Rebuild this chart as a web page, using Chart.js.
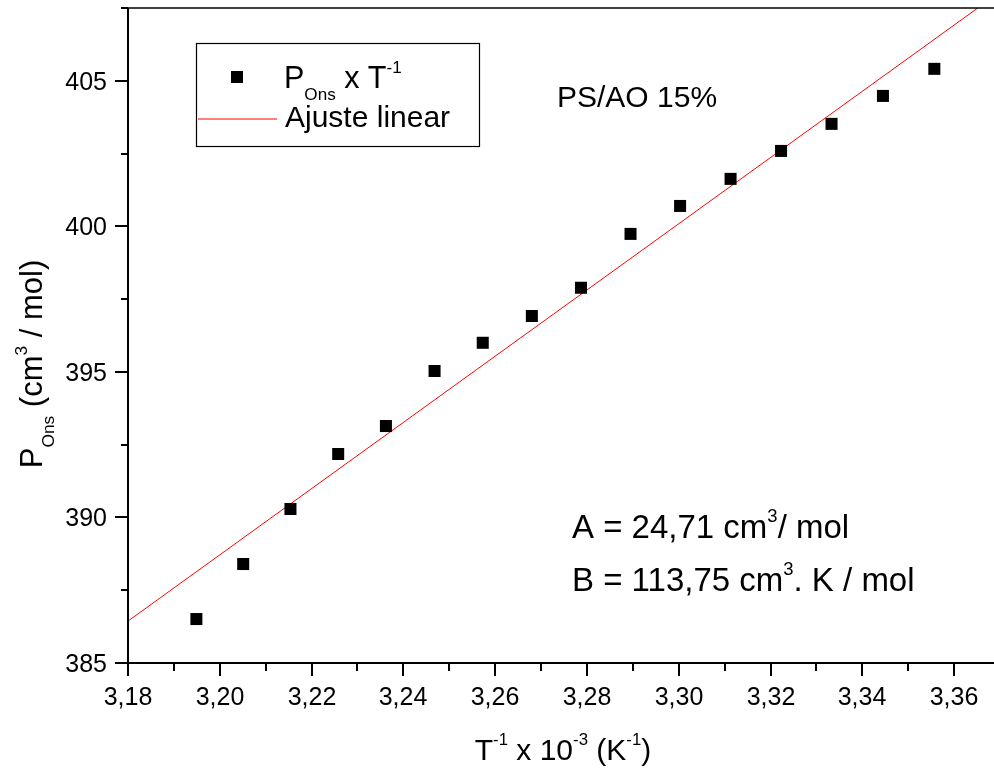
<!DOCTYPE html>
<html>
<head>
<meta charset="utf-8">
<script src="https://cdn.jsdelivr.net/npm/chart.js@4/dist/chart.umd.min.js"></script>
<style>
  html, body { margin: 0; padding: 0; background: #fff; overflow: hidden; }
  canvas { display: block; }
</style>
</head>
<body>
<canvas id="c" width="994" height="771"></canvas>
<script>
// ---- data ----
const xVals = [3.1949, 3.2051, 3.2154, 3.2258, 3.2362, 3.2468, 3.2573, 3.2680, 3.2787, 3.2895, 3.3003, 3.3113, 3.3223, 3.3333, 3.3445, 3.3557];
const yVals = [386.51, 388.40, 390.29, 392.18, 393.14, 395.03, 396.00, 396.92, 397.89, 399.74, 400.70, 401.63, 402.59, 403.52, 404.48, 405.41];
const fitX = [3.18, 3.37];
const fitY = [386.44, 408.05];
const xMajorTicks = [3.18, 3.20, 3.22, 3.24, 3.26, 3.28, 3.30, 3.32, 3.34, 3.36];
const xMinorTicks = [3.19, 3.21, 3.23, 3.25, 3.27, 3.29, 3.31, 3.33, 3.35];
const yMajorTicks = [385, 390, 395, 400, 405];
const yMinorTicks = [387.5, 392.5, 397.5, 402.5, 407.5];
const X_MIN = 3.18, X_MAX = 3.3687, Y_MIN = 385, Y_MAX = 407.5;

const FONT = '"Liberation Sans", Arial, Helvetica, sans-serif';

function richWidth(ctx, parts, size) {
  let w = 0;
  for (const p of parts) {
    const s = p.s ? size * 0.56 : size;
    ctx.font = s + 'px ' + FONT;
    w += ctx.measureText(p.t).width;
  }
  return w;
}
function drawRich(ctx, x, y, parts, size, align) {
  let cx = align === 'center' ? x - richWidth(ctx, parts, size) / 2 : x;
  ctx.textAlign = 'left';
  ctx.textBaseline = 'alphabetic';
  ctx.fillStyle = '#000';
  for (const p of parts) {
    const s = p.s ? size * 0.56 : size;
    let dy = 0;
    if (p.s === 'sup') dy = -size * 0.5;
    if (p.s === 'sub') dy = size * 0.38;
    ctx.font = s + 'px ' + FONT;
    ctx.fillText(p.t, cx, y + dy);
    cx += ctx.measureText(p.t).width;
  }
}
const fmtX = v => v.toFixed(2).replace('.', ',');

const decor = {
  id: 'decor',
  afterDraw(chart) {
    const ctx = chart.ctx;
    const xs = chart.scales.x, ys = chart.scales.y;
    const a = chart.chartArea;
    ctx.save();
    ctx.strokeStyle = '#000';
    ctx.lineCap = 'butt';
    // top frame line
    ctx.lineWidth = 1.5;
    ctx.beginPath(); ctx.moveTo(a.left, a.top); ctx.lineTo(a.right, a.top); ctx.stroke();
    // axes
    ctx.lineWidth = 2;
    ctx.beginPath(); ctx.moveTo(a.left, a.top); ctx.lineTo(a.left, a.bottom + 1); ctx.stroke();
    ctx.beginPath(); ctx.moveTo(a.left - 1, a.bottom); ctx.lineTo(a.right, a.bottom); ctx.stroke();
    // x ticks + labels
    ctx.fillStyle = '#000';
    ctx.font = '25px ' + FONT;
    ctx.textAlign = 'center';
    ctx.textBaseline = 'alphabetic';
    for (const v of xMajorTicks) {
      const px = Math.round(xs.getPixelForValue(v));
      ctx.beginPath(); ctx.moveTo(px, a.bottom); ctx.lineTo(px, a.bottom + 13); ctx.stroke();
      ctx.fillText(fmtX(v), px, 705);
    }
    for (const v of xMinorTicks) {
      const px = Math.round(xs.getPixelForValue(v));
      ctx.beginPath(); ctx.moveTo(px, a.bottom); ctx.lineTo(px, a.bottom + 8); ctx.stroke();
    }
    // y ticks + labels
    ctx.textAlign = 'right';
    for (const v of yMajorTicks) {
      const py = Math.round(ys.getPixelForValue(v));
      ctx.beginPath(); ctx.moveTo(a.left, py); ctx.lineTo(a.left - 13, py); ctx.stroke();
      ctx.fillText(String(v), 107, py + 9);
    }
    for (const v of yMinorTicks) {
      const py = Math.round(ys.getPixelForValue(v));
      ctx.beginPath(); ctx.moveTo(a.left, py); ctx.lineTo(a.left - 7, py); ctx.stroke();
    }
    // legend box
    ctx.lineWidth = 1.2;
    ctx.strokeRect(196.5, 43.5, 283, 103);
    ctx.fillStyle = '#000';
    ctx.fillRect(231, 71, 12, 12);
    ctx.strokeStyle = '#ff0000';
    ctx.lineWidth = 1;
    ctx.beginPath(); ctx.moveTo(198, 119); ctx.lineTo(277, 119); ctx.stroke();
    drawRich(ctx, 284, 88, [{t: 'P'}, {t: 'Ons', s: 'sub'}, {t: ' x T'}, {t: '-1', s: 'sup'}], 30.5, 'left');
    drawRich(ctx, 285, 127, [{t: 'Ajuste linear'}], 30, 'left');
    // annotations
    drawRich(ctx, 557, 107, [{t: 'PS/AO 15%'}], 30, 'left');
    drawRich(ctx, 572, 538, [{t: 'A = 24,71 cm'}, {t: '3', s: 'sup'}, {t: '/ mol'}], 33, 'left');
    drawRich(ctx, 572, 591, [{t: 'B = 113,75 cm'}, {t: '3', s: 'sup'}, {t: '. K / mol'}], 33, 'left');
    // axis titles
    drawRich(ctx, 563, 760, [{t: 'T'}, {t: '-1', s: 'sup'}, {t: ' x 10'}, {t: '-3', s: 'sup'}, {t: ' (K'}, {t: '-1', s: 'sup'}, {t: ')'}], 30, 'center');
    ctx.save();
    ctx.translate(42, 364);
    ctx.rotate(-Math.PI / 2);
    drawRich(ctx, 0, 0, [{t: 'P'}, {t: 'Ons', s: 'sub'}, {t: ' (cm'}, {t: '3', s: 'sup'}, {t: ' / mol)'}], 31, 'center');
    ctx.restore();
    ctx.restore();
  }
};

const scatterData = xVals.map((x, i) => ({x: x, y: yVals[i]}));
const fitData = fitX.map((x, i) => ({x: x, y: fitY[i]}));

new Chart(document.getElementById('c'), {
  type: 'scatter',
  data: {
    datasets: [
      {
        label: 'P_Ons x T^-1',
        data: scatterData,
        pointStyle: 'rect',
        pointRadius: 8.5,
        pointHoverRadius: 8.5,
        backgroundColor: '#000',
        borderColor: '#000',
        borderWidth: 0
      },
      {
        type: 'line',
        label: 'Ajuste linear',
        data: fitData,
        borderColor: '#ff0000',
        borderWidth: 1,
        pointRadius: 0,
        fill: false,
        tension: 0
      }
    ]
  },
  options: {
    responsive: false,
    animation: false,
    devicePixelRatio: 1,
    layout: { autoPadding: false, padding: { top: 8, right: 0, left: 0, bottom: 0 } },
    plugins: { legend: { display: false }, tooltip: { enabled: false } },
    scales: {
      x: {
        type: 'linear',
        min: X_MIN, max: X_MAX,
        grid: { display: false, drawTicks: false },
        border: { display: false },
        ticks: { display: false },
        afterFit(scale) { scale.height = 108; scale.paddingLeft = 0; scale.paddingRight = 0; }
      },
      y: {
        type: 'linear',
        min: Y_MIN, max: Y_MAX,
        grid: { display: false, drawTicks: false },
        border: { display: false },
        ticks: { display: false },
        afterFit(scale) { scale.width = 128; scale.paddingTop = 0; scale.paddingBottom = 0; }
      }
    }
  },
  plugins: [decor]
});
</script>
</body>
</html>
